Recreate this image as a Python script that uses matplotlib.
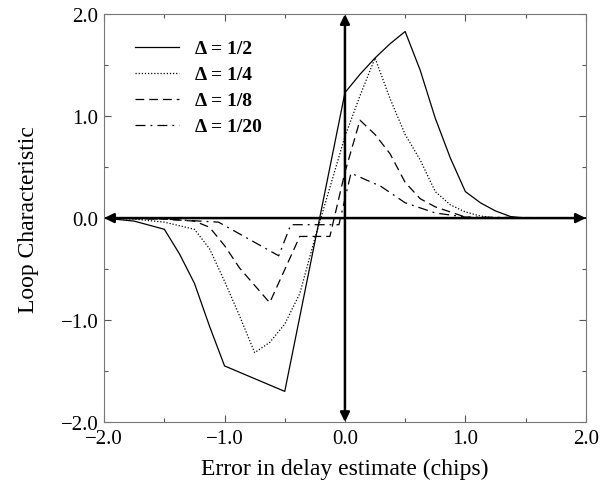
import matplotlib
matplotlib.use('Agg')
import matplotlib.pyplot as plt

# Delta = 1/2 (solid)
x_d2 = [-2.0, -1.75, -1.5, -1.375, -1.25, -1.125, -1.0, -0.5, 0.0, 0.125, 0.25, 0.375, 0.5,
        0.625, 0.75, 0.875, 1.0, 1.125, 1.25, 1.375, 1.5, 2.0]
y_d2 = [0.0, -0.03, -0.11, -0.35, -0.64, -1.06, -1.45, -1.70, 1.23, 1.41, 1.57, 1.71, 1.83,
        1.45, 0.98, 0.59, 0.26, 0.15, 0.07, 0.015, 0.0, 0.0]

# Delta = 1/4 (dotted)
x_d4 = [-2.0, -1.75, -1.5, -1.25, -1.125, -1.0, -0.875, -0.75, -0.625, -0.5, -0.375, -0.25,
        -0.125, 0.0, 0.125, 0.25, 0.375, 0.5, 0.625, 0.75, 0.875, 1.0, 1.125, 1.25, 2.0]
y_d4 = [0.0, -0.01, -0.04, -0.11, -0.30, -0.62, -0.96, -1.32, -1.22, -1.04, -0.74, -0.20,
        0.30, 0.80, 1.20, 1.57, 1.17, 0.82, 0.57, 0.26, 0.13, 0.06, 0.02, 0.0, 0.0]

# Delta = 1/8 (dashed)
x_d8 = [-2.0, -1.5, -1.25, -1.125, -1.0, -0.875, -0.75, -0.625, -0.375, -0.125, 0.0, 0.125,
        0.25, 0.375, 0.5, 0.625, 0.75, 0.875, 1.0, 1.125, 2.0]
y_d8 = [0.0, -0.01, -0.03, -0.09, -0.27, -0.49, -0.66, -0.83, -0.18, -0.18, 0.45, 0.96,
        0.82, 0.63, 0.35, 0.19, 0.11, 0.06, 0.01, 0.0, 0.0]

# Delta = 1/20 (dash-dot)
x_d20 = [-2.0, -1.5, -1.05, -0.55, -0.45, -0.05, 0.05, 0.3, 0.5, 0.75, 1.0, 2.0]
y_d20 = [0.0, -0.01, -0.04, -0.37, -0.065, -0.065, 0.44, 0.31, 0.15, 0.05, 0.01, 0.0]

labels = ['Δ = 1/2', 'Δ = 1/4', 'Δ = 1/8', 'Δ = 1/20']
ticks = [-2.0, -1.0, 0.0, 1.0, 2.0]
tick_labels = ['\u22122.0', '\u22121.0', '0.0', '1.0', '2.0']

plt.rcParams['font.family'] = ['Liberation Serif', 'DejaVu Serif']

fig = plt.figure(figsize=(6.02, 4.89), dpi=100)
ax = fig.add_axes([0.173, 0.135, 0.8, 0.834])

lw = 0.9
ax.plot(x_d2, y_d2, color='k', lw=lw, ls='-', label=labels[0])
ax.plot(x_d4, y_d4, color='k', lw=lw, ls=(0, (1, 1.5)), label=labels[1])
ax.plot(x_d8, y_d8, color='k', lw=lw, ls=(0, (7, 4)), label=labels[2])
ax.plot(x_d20, y_d20, color='k', lw=lw, ls=(0, (8, 4, 1.5, 4)), label=labels[3])

# axes arrows through the origin
ax.annotate('', xy=(2.0, 0), xytext=(-2.0, 0),
            arrowprops=dict(arrowstyle='<|-|>', lw=1.8, color='k',
                            mutation_scale=14, shrinkA=0, shrinkB=0))
ax.annotate('', xy=(0, 2.0), xytext=(0, -2.0),
            arrowprops=dict(arrowstyle='<|-|>', lw=1.8, color='k',
                            mutation_scale=14, shrinkA=0, shrinkB=0))

ax.set_xlim(-2, 2)
ax.set_ylim(-2, 2)
ax.set_xticks(ticks)
ax.set_xticklabels(tick_labels)
ax.set_yticks(ticks)
ax.set_yticklabels(tick_labels)
ax.set_xticks([-1.5, -0.5, 0.5, 1.5], minor=True)
ax.set_yticks([-1.5, -0.5, 0.5, 1.5], minor=True)
ax.tick_params(which='both', direction='in', top=True, right=True, labelsize=15,
               color='#555555', width=0.8)
ax.tick_params(which='major', length=5, pad=4)
ax.tick_params(axis='x', which='major', pad=5)
ax.tick_params(which='minor', length=3)
for s in ax.spines.values():
    s.set_color('#777777')
    s.set_linewidth(0.8)

ax.set_xlabel('Error in delay estimate (chips)', fontsize=17, labelpad=7)
ax.set_ylabel('Loop Characteristic', fontsize=17, labelpad=16)

leg = ax.legend(loc='upper left', bbox_to_anchor=(0.027, 0.98), frameon=False,
                handlelength=2.3, handletextpad=0.8, labelspacing=0.43,
                prop={'size': 14, 'weight': 'bold'})

fig.savefig('out.png', dpi=100)
